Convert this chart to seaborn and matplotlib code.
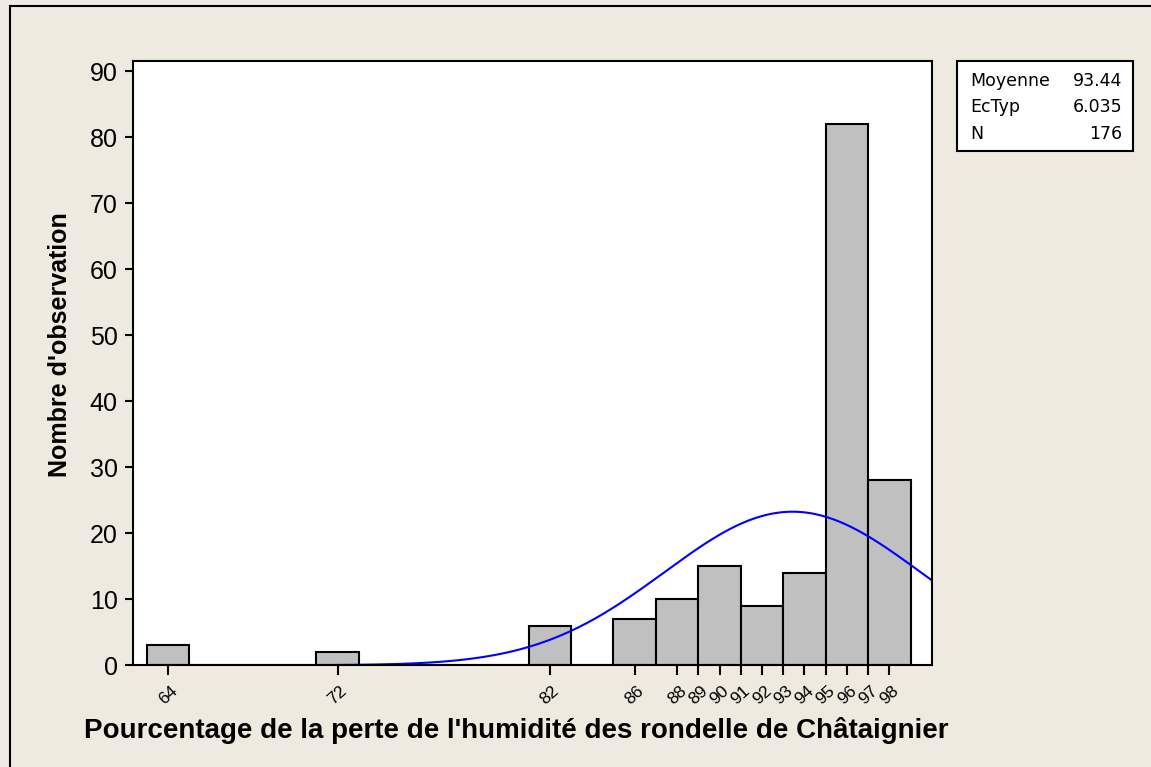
import numpy as np
import pandas as pd
import seaborn as sns
import matplotlib.pyplot as plt
from matplotlib.patches import Rectangle

# bin centres (bin width 2) and counts
centers = [64, 72, 82, 86, 88, 90, 92, 94, 96, 98]
counts = [3, 2, 6, 7, 10, 15, 9, 14, 82, 28]
bin_edges = list(range(63, 101, 2))
tick_vals = [64, 72, 82, 86, 88, 89, 90, 91, 92, 93, 94, 95, 96, 97, 98]
mean, sd, n = 93.44, 6.035, 176

df = pd.DataFrame({'pct': centers, 'n': counts})

sns.set_theme(style='white')
plt.rcParams['font.family'] = ['Liberation Sans', 'DejaVu Sans']
plt.rcParams['text.color'] = 'black'
plt.rcParams['axes.labelcolor'] = 'black'
plt.rcParams['xtick.color'] = 'black'
plt.rcParams['ytick.color'] = 'black'
bg = '#EEEAE0'

fig = plt.figure(figsize=(11.51, 7.67), dpi=100, facecolor=bg)
ax = fig.add_axes([0.1156, 0.1326, 0.8095 - 0.1156, 0.9209 - 0.1326])
ax.set_facecolor('white')

sns.histplot(data=df, x='pct', weights='n', bins=bin_edges, color='#C0C0C0',
             edgecolor='black', linewidth=1.5, alpha=1, ax=ax)

# fitted normal curve
xs = np.linspace(71, 100, 300)
ys = n * 2 / (sd * np.sqrt(2 * np.pi)) * np.exp(-0.5 * ((xs - mean) / sd) ** 2)
sns.lineplot(x=xs, y=ys, color='#0000FF', linewidth=1.5, ax=ax)

ax.set_xlim(62.36, 100.0)
ax.set_ylim(0, 91.6)
ax.set_yticks(range(0, 91, 10))
ax.set_xticks(tick_vals)
ax.set_xticklabels([str(v) for v in tick_vals], rotation=42, ha='center', fontsize=12.5)
ax.tick_params(axis='y', labelsize=18, length=6, width=1.5, pad=5, left=True)
ax.tick_params(axis='x', length=7, width=1.5, pad=6, bottom=True)
for s in ax.spines.values():
    s.set_color('black')
    s.set_linewidth(1.5)

ax.set_xlabel("Pourcentage de la perte de l'humidité des rondelle de Châtaignier",
              fontsize=20, fontweight='bold')
ax.set_ylabel("Nombre d'observation", fontsize=18, fontweight='bold')
ax.xaxis.set_label_coords(0.480, -0.085)
ax.yaxis.set_label_coords(-0.077, 0.53)

# statistics box
fig.add_artist(Rectangle((0.8317, 0.8031), 0.9846 - 0.8317, 0.9205 - 0.8031,
                         transform=fig.transFigure, facecolor='white',
                         edgecolor='black', linewidth=1.5))
stats = [('Moyenne', '93.44'), ('EcTyp', '6.035'), ('N', '176')]
for i, (lab, val) in enumerate(stats):
    y = 0.8948 - i * 0.0347
    fig.text(0.8427, y, lab, fontsize=12.5, va='center', family='DejaVu Sans')
    fig.text(0.9748, y, val, fontsize=12.5, va='center', ha='right', family='DejaVu Sans')

# outer frame (only top and left edges visible)
fig.add_artist(Rectangle((10 / 1151, -0.1), 1.2, 0.992 + 0.1,
                         transform=fig.transFigure, facecolor='none',
                         edgecolor='black', linewidth=1.5))

fig.savefig('out.png', dpi=100, facecolor=bg)
